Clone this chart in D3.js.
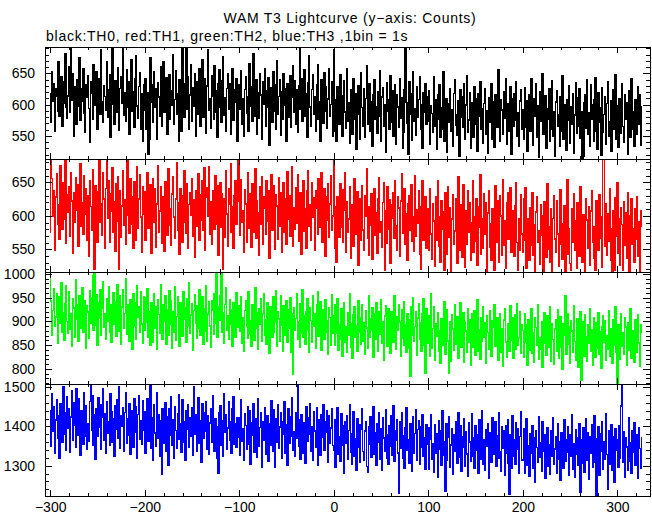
<!DOCTYPE html>
<html><head><meta charset="utf-8">
<script src="https://cdn.jsdelivr.net/npm/d3@7"></script>
<style>
body{margin:0;background:#fff}
svg{display:block}
text{font-family:"Liberation Sans",Arial,Helvetica,sans-serif;fill:#000}
</style>
</head><body><svg id="c" width="652" height="515"></svg>
<script>
const titleText = "WAM T3 Lightcurve (y\u2212axis: Counts)";
const subtitleText = "black:TH0, red:TH1, green:TH2, blue:TH3 ,1bin = 1s";
const startTime = -300, binSize = 1;
const xTickLabels = [-300,-200,-100,0,100,200,300];
const yTicksTH0 = [550,600,650];
const yTicksTH1 = [550,600,650];
const yTicksTH2 = [800,850,900,950,1000];
const yTicksTH3 = [1300,1400,1500];

const th0 = [
617,572,652,605,633,557,626,613,590,669,
582,621,645,565,602,636,682,595,578,614,
661,587,695,607,649,549,629,619,569,640,
598,675,575,625,606,657,586,555,632,611,
646,594,540,637,618,576,664,628,599,652,
561,622,642,584,687,605,571,630,613,591,
668,580,624,648,547,634,693,601,568,638,
615,588,659,559,626,644,602,690,583,619,
574,655,595,636,552,613,672,590,621,564,
641,678,598,578,629,651,560,617,542,632,
591,642,560,619,520,545,675,603,631,571,
652,596,626,545,635,612,581,660,565,616,
668,588,604,643,553,629,648,576,622,599,
680,568,608,654,584,618,542,639,625,557,
694,611,579,633,690,592,645,561,615,664,
573,627,598,650,549,637,619,585,657,566,
621,672,580,602,642,554,630,688,591,610,
562,646,614,577,662,587,622,548,634,656,
596,571,638,677,583,611,558,626,649,593,
633,552,616,658,575,623,603,641,541,629,
632,592,654,569,609,549,624,645,586,612,
558,666,597,628,574,682,582,605,640,553,
619,578,649,615,545,636,601,658,566,622,
595,643,535,627,608,572,653,589,631,561,
670,584,613,639,551,620,576,650,599,626,
542,634,616,580,646,563,611,662,588,638,
568,623,555,630,693,593,642,573,607,655,
581,618,547,635,678,596,565,624,647,585,
613,557,632,663,577,605,541,640,620,570,
651,590,628,562,609,657,582,600,636,550,
688,558,608,541,628,599,568,647,580,550,
614,638,588,562,658,573,603,538,623,593,
553,642,577,618,529,606,630,584,545,651,
595,565,626,547,610,662,569,587,633,557,
604,534,616,639,576,597,554,620,581,654,
542,612,627,566,600,524,635,589,607,560,
646,572,622,549,601,631,537,615,596,564,
641,578,611,530,556,624,690,603,570,520,
637,585,618,543,653,574,593,551,628,580,
608,645,561,600,530,619,587,634,568,612,
574,622,537,598,586,555,644,565,607,529,
615,576,632,547,595,561,652,541,588,610,
524,602,571,626,557,592,534,618,640,567,
584,551,606,518,624,579,613,564,634,544,
599,646,556,575,619,530,603,587,548,629,
569,609,526,617,582,637,560,594,538,602,
625,553,590,522,611,598,572,633,545,605,
532,615,586,563,656,568,542,607,591,552,
621,578,641,536,601,557,595,628,520,610,
565,618,575,636,549,587,533,606,624,561,
591,545,627,564,606,525,585,616,557,642,
568,535,610,581,633,548,598,515,621,573,
602,650,553,571,614,530,594,577,626,541,
561,638,550,588,518,604,622,565,584,533,
612,558,646,544,592,600,527,607,575,630,
538,596,569,618,522,583,635,554,611,566,
625,546,589,512,517,603,615,562,639,552,
587,534,631,577,599,542,608,643,558,529,
619,571,595,519,627,556,584,612,537,602,
637,549,572,606,526,591,623,561,648,544,
598,531,610,585,554,633,565,539,615,576,
603,521,622,592,548,641,560,588,533,607,
583,552,629,568,616,535,596
];

const th1 = [
575,688,656,599,638,549,628,663,587,617,
565,675,613,580,649,595,686,559,632,605,
644,569,665,622,544,634,591,657,609,646,
555,626,678,584,619,572,660,602,640,563,
630,540,652,614,578,669,594,520,645,599,
560,636,682,590,618,571,664,625,552,641,
688,596,653,561,633,607,672,576,621,547,
648,592,659,520,637,568,615,668,586,624,
557,642,688,601,574,655,588,629,551,651,
611,564,673,582,625,661,598,545,644,603,
636,564,615,664,582,602,647,544,626,655,
590,640,553,618,675,576,607,644,559,629,
595,547,651,622,571,671,586,611,556,633,
659,598,567,625,680,579,620,543,641,609,
561,630,667,591,574,648,552,617,634,601,
656,570,624,538,638,614,584,663,563,632,
594,652,578,672,548,628,642,599,674,572,
621,557,637,610,580,660,588,645,541,615,
649,583,633,520,625,568,668,603,555,641,
618,678,575,613,551,630,653,587,622,690,
626,571,654,591,608,546,639,618,561,664,
581,633,599,553,648,614,576,671,567,622,
604,541,644,587,658,557,629,611,572,652,
592,638,537,621,662,579,602,645,550,631,
615,565,657,584,635,545,607,650,575,625,
558,666,595,630,569,619,673,554,612,580,
642,589,661,562,606,634,542,623,653,577,
610,552,638,668,585,617,564,649,598,627,
549,637,612,573,656,583,604,665,560,621,
641,540,629,594,648,568,618,660,579,600,
688,552,613,531,629,598,568,648,583,639,
560,609,664,545,621,576,595,644,537,617,
602,555,655,572,590,636,526,625,606,564,
645,579,548,630,599,670,567,541,614,586,
633,535,610,641,571,605,544,626,657,575,
591,553,620,649,519,608,559,643,580,624,
529,616,597,635,566,653,585,549,628,612,
539,622,663,574,587,640,558,603,533,618,
630,578,647,562,598,547,660,570,609,589,
637,543,520,614,652,563,582,629,551,605,
610,548,641,573,535,618,592,525,629,564,
653,554,598,531,622,580,606,519,634,587,
543,643,568,612,514,595,631,558,577,625,
602,529,658,549,585,616,538,647,569,523,
608,557,637,575,619,533,589,652,546,599,
562,626,526,614,583,662,542,596,552,633,
572,620,516,604,638,553,588,534,611,566,
519,645,561,623,576,530,630,600,541,654,
556,593,522,619,635,565,580,642,545,607,
591,539,615,649,560,519,596,549,631,573,
546,625,564,642,522,595,580,534,612,556,
634,541,587,507,606,629,560,577,527,617,
571,600,517,621,591,538,648,550,584,530,
610,513,596,630,565,545,622,573,525,604,
639,557,535,588,615,515,599,654,542,581,
529,519,611,561,633,549,592,521,619,585,
540,644,568,531,602,579,511,626,594,552,
614,526,607,637,560,537,584,518,623,590,
548,631,567,598,523,688,690,554,618,541,
603,562,641,533,580,514,608,519,627,569,
650,544,595,526,612,587,519,621,556,604,
537,635,572,510,600,625,558,581,530,611,
565,629,540,591,515,607,584
];

const th2 = [
1004,943,870,923,969,889,909,959,853,931,
951,896,981,878,919,861,938,975,900,874,
962,884,916,847,947,928,867,988,904,936,
858,954,924,886,971,876,913,944,844,932,
920,865,965,897,950,996,881,1004,892,957,
850,939,907,967,871,927,984,888,915,862,
948,901,973,877,934,855,921,961,893,942,
869,978,911,880,953,851,930,966,885,917,
990,873,935,903,859,946,926,842,958,890,
940,863,974,908,931,876,963,894,854,951,
881,950,898,968,866,921,850,939,908,856,
959,886,931,842,946,914,874,978,891,863,
935,901,955,852,925,870,964,894,943,844,
920,878,973,860,910,952,883,848,940,917,
869,963,904,929,855,947,889,982,875,913,
937,840,923,956,897,864,933,885,967,871,
909,951,851,927,879,975,858,916,941,890,
846,944,924,873,958,896,1004,867,931,902,
954,1004,877,919,854,936,970,882,912,862,
946,893,925,847,940,906,866,960,887,932,
932,879,952,854,908,836,923,944,889,865,
962,873,901,847,936,913,861,971,885,919,
842,927,894,948,858,916,958,870,904,851,
939,883,832,931,909,866,951,877,898,965,
848,920,905,859,955,892,838,933,912,871,
943,855,924,886,950,834,915,788,929,881,
906,959,862,900,846,938,875,967,867,911,
852,921,947,882,835,928,902,856,954,890,
917,843,935,963,869,888,942,839,913,925,
862,946,878,901,831,929,908,850,956,874,
911,849,934,874,948,840,892,863,926,826,
901,940,855,888,834,919,870,958,846,896,
822,913,930,866,890,838,944,877,908,851,
936,859,897,830,923,886,844,953,867,905,
881,928,824,916,862,939,894,836,920,873,
946,853,900,817,911,932,869,847,927,889,
832,921,904,857,955,876,842,909,882,935,
899,827,924,865,942,850,893,835,917,903,
844,785,931,871,950,858,889,920,828,907,
938,863,897,838,915,947,849,790,927,877,
854,911,826,958,843,885,931,819,895,869,
918,837,881,811,905,889,849,942,831,876,
924,859,790,900,816,914,884,839,934,851,
868,909,823,892,939,845,862,919,814,899,
880,834,927,855,904,808,915,874,846,923,
828,893,945,838,882,820,907,858,930,866,
897,812,912,877,841,922,853,827,901,887,
936,847,870,908,818,891,916,835,884,805,
903,926,857,824,896,878,837,932,861,908,
822,888,914,842,938,850,865,920,832,892,
881,824,915,857,893,807,903,869,839,926,
833,877,814,907,887,850,935,820,866,842,
900,803,891,919,854,829,912,846,873,930,
816,896,862,810,884,904,838,924,823,876,
910,845,799,895,870,955,830,915,851,889,
812,901,880,834,933,858,819,887,906,804,
874,920,775,849,899,827,914,868,815,892,
853,927,837,883,807,907,872,824,897,843,
918,831,879,802,889,911,856,901,818,869,
841,923,826,885,866,811,903,850,931,835,
770,893,860,820,915,847,876,830,908,888,
808,897,873,839,926,823,881,864,814,904,
884,834,914,854,806,892,877
];

const th3 = [
1439,1350,1483,1389,1450,1331,1416,1467,1369,1428,
1320,1458,1410,1359,1501,1381,1435,1340,1475,1396,
1446,1335,1424,1491,1366,1460,1402,1346,1497,1378,
1470,1385,1327,1441,1417,1355,1486,1374,1452,1343,
1406,1363,1463,1508,1391,1479,1352,1429,1316,1444,
1375,1473,1398,1455,1342,1423,1497,1364,1432,1332,
1462,1382,1413,1351,1482,1437,1360,1420,1323,1452,
1394,1467,1370,1500,1344,1427,1401,1447,1337,1436,
1485,1356,1419,1377,1459,1328,1441,1408,1348,1471,
1386,1450,1319,1431,1477,1367,1414,1354,1466,1390,
1438,1332,1410,1471,1363,1399,1508,1344,1422,1313,
1454,1383,1350,1485,1369,1430,1325,1415,1278,1446,
1357,1402,1461,1337,1425,1300,1444,1377,1476,1353,
1418,1319,1450,1390,1345,1433,1481,1368,1406,1334,
1467,1360,1411,1314,1441,1392,1456,1348,1421,1375,
1448,1326,1500,1380,1430,1338,1404,1473,1356,1414,
1309,1458,1371,1436,1387,1464,1342,1426,1330,1409,
1444,1361,1479,1376,1337,1419,1400,1318,1280,1434,
1453,1352,1415,1323,1484,1384,1431,1341,1396,1463,
1364,1411,1333,1445,1475,1354,1407,1346,1423,1372,
1423,1326,1467,1363,1394,1313,1432,1403,1343,1451,
1355,1439,1304,1409,1378,1458,1335,1419,1370,1322,
1470,1349,1397,1436,1296,1413,1366,1448,1330,1389,
1427,1311,1407,1353,1465,1374,1338,1442,1297,1420,
1359,1454,1344,1399,1434,1320,1412,1381,1462,1332,
1404,1301,1444,1357,1424,1376,1474,1340,1386,1324,
1435,1369,1508,1350,1416,1317,1430,1393,1331,1409,
1307,1450,1362,1421,1380,1459,1336,1400,1315,1438,
1388,1346,1447,1300,1417,1405,1327,1431,1373,1455,
1339,1411,1384,1440,1308,1426,1358,1396,1446,1351,
1340,1416,1296,1385,1447,1328,1373,1311,1432,1352,
1401,1281,1411,1357,1427,1317,1390,1456,1334,1304,
1381,1438,1324,1369,1289,1420,1346,1405,1308,1394,
1444,1336,1313,1388,1413,1298,1284,1398,1355,1425,
1321,1375,1450,1330,1384,1301,1408,1361,1434,1316,
1393,1288,1423,1370,1338,1442,1320,1378,1305,1402,
1350,1428,1327,1452,1312,1389,1365,1417,1332,1230,
1412,1344,1435,1319,1377,1293,1397,1448,1339,1367,
1307,1407,1358,1287,1424,1331,1382,1443,1315,1392,
1415,1303,1400,1348,1431,1325,1371,1292,1404,1354,
1397,1291,1368,1430,1317,1357,1283,1405,1333,1382,
1271,1415,1341,1390,1302,1440,1326,1360,1235,1407,
1313,1372,1425,1295,1353,1394,1278,1379,1337,1411,
1364,1306,1436,1321,1402,1287,1375,1348,1420,1299,
1386,1330,1274,1410,1361,1311,1432,1324,1371,1293,
1401,1340,1378,1280,1417,1316,1356,1441,1305,1366,
1289,1391,1349,1406,1268,1383,1370,1309,1422,1328,
1360,1413,1298,1376,1320,1434,1336,1286,1398,1345,
1388,1275,1403,1332,1418,1307,1228,1380,1294,1428,
1325,1367,1303,1409,1343,1393,1282,1374,1437,1314,
1315,1394,1281,1363,1420,1302,1351,1273,1382,1331,
1402,1293,1370,1257,1388,1346,1309,1425,1321,1358,
1286,1411,1338,1378,1267,1366,1397,1298,1354,1278,
1390,1325,1423,1305,1342,1374,1282,1406,1317,1361,
1262,1385,1350,1294,1416,1311,1367,1334,1400,1275,
1379,1323,1429,1290,1355,1271,1392,1329,1371,1301,
1408,1232,1365,1307,1396,1284,1347,1419,1313,1384,
1266,1375,1332,1404,1296,1359,1427,1308,1225,1369,
1398,1277,1381,1336,1412,1292,1362,1316,1432,1328,
1240,1389,1304,1352,1405,1288,1373,1258,1393,1339,
1367,1297,1401,1320,1452,1508,1309,1386,1271,1370,
1348,1289,1421,1312,1358,1280,1390,1335,1409,1300,
1378,1324,1269,1396,1344,1293,1371
];

const series = [th0, th1, th2, th3];
const colors = ["#000000", "#ff0000", "#00ff00", "#0000ff"];
const yDomains = [[513, 692], [516, 685], [768, 1004], [1223, 1508]];
const yMajor = [yTicksTH0, yTicksTH1, yTicksTH2, yTicksTH3];
const yMinorStep = [10, 10, 10, 20];
const panelTops = [47, 159, 272, 384];
const panelBottoms = [159, 272, 384, 496];

const svg = d3.select("#c");
const left = 45, right = 650;
const x = d3.scaleLinear().domain([-305.5, 334.5]).range([left, right]);
const xMinor = d3.range(-300, 335, 20).filter(v => xTickLabels.indexOf(v) < 0);

svg.append("text").attr("x", 350).attr("y", 23).attr("text-anchor", "middle")
  .style("font-size", "14px").style("letter-spacing", "0.75px").text(titleText);
svg.append("text").attr("x", 46).attr("y", 41)
  .style("font-size", "14px").style("letter-spacing", "0.75px").text(subtitleText);

series.forEach((data, k) => {
  const top = panelTops[k], bot = panelBottoms[k];
  const y = d3.scaleLinear().domain(yDomains[k]).range([bot, top]);
  const clipId = "clip" + k;
  svg.append("clipPath").attr("id", clipId).append("rect")
    .attr("x", left).attr("y", top).attr("width", right - left).attr("height", bot - top);
  const line = d3.line().curve(d3.curveStep)
    .x((d, i) => x(startTime + i * binSize)).y(d => y(d));
  svg.append("path").datum(data).attr("clip-path", `url(#${clipId})`)
    .attr("fill", "none").attr("stroke", colors[k]).attr("stroke-width", 1.5)
    .attr("shape-rendering", "crispEdges").attr("d", line);

  const yMin = d3.range(Math.ceil(yDomains[k][0] / yMinorStep[k]) * yMinorStep[k], yDomains[k][1], yMinorStep[k])
    .filter(v => yMajor[k].indexOf(v) < 0);
  const ax = svg.append("g").attr("shape-rendering", "crispEdges");
  ax.append("g").attr("transform", `translate(${left},0)`)
    .call(d3.axisLeft(y).tickValues(yMajor[k]).tickSize(-7).tickPadding(10).tickFormat(d3.format("d")));
  ax.append("g").attr("transform", `translate(${left},0)`)
    .call(d3.axisLeft(y).tickValues(yMin).tickSize(-4).tickFormat(""));
  ax.append("g").attr("transform", `translate(${right},0)`)
    .call(d3.axisRight(y).tickValues(yMajor[k]).tickSize(-7).tickFormat(""));
  ax.append("g").attr("transform", `translate(${right},0)`)
    .call(d3.axisRight(y).tickValues(yMin).tickSize(-4).tickFormat(""));
  ax.append("g").attr("transform", `translate(0,${top})`)
    .call(d3.axisTop(x).tickValues(xTickLabels).tickSize(-6).tickFormat(""));
  ax.append("g").attr("transform", `translate(0,${top})`)
    .call(d3.axisTop(x).tickValues(xMinor).tickSize(-3).tickFormat(""));
  ax.append("g").attr("transform", `translate(0,${bot})`)
    .call(d3.axisBottom(x).tickValues(xTickLabels).tickSize(-6).tickPadding(6)
      .tickFormat(k === 3 ? (v => v < 0 ? "\u2212" + Math.abs(v) : String(v)) : ""));
  ax.append("g").attr("transform", `translate(0,${bot})`)
    .call(d3.axisBottom(x).tickValues(xMinor).tickSize(-3).tickFormat(""));
  ax.selectAll(".domain").remove();
  ax.selectAll("line").attr("stroke", "#000");
  ax.selectAll("text").attr("fill", "#000").style("font-size", "14px")
    .style("font-family", '"Liberation Sans",Arial,Helvetica,sans-serif');
  ax.append("rect").attr("x", left).attr("y", top).attr("width", right - left).attr("height", bot - top)
    .attr("fill", "none").attr("stroke", "#000").attr("stroke-width", 1);
});
</script>
</body></html>
